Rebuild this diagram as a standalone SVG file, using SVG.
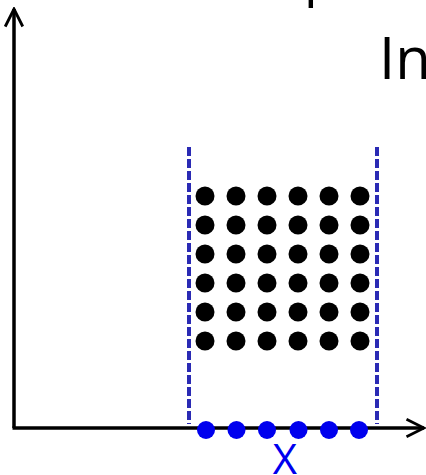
<svg xmlns="http://www.w3.org/2000/svg" width="426" height="475" viewBox="0 0 426 475">
<style>
.axis{stroke:#000;stroke-width:3.5;fill:none}
.dash{stroke:#2a2ab4;stroke-width:4;stroke-dasharray:9 3;fill:none}
.bd{fill:#000}
.bl{fill:#0000ee}
.t{font-family:"Open Sans","Liberation Sans",sans-serif}
</style>
<defs>
<marker id="ah" viewBox="0 0 12 12" refX="11" refY="6" markerWidth="6" markerHeight="6" markerUnits="strokeWidth" orient="auto">
<path d="M1 1 L11 6 L1 11" fill="none" stroke="#000" stroke-width="1.6"/>
</marker>
</defs>
<rect width="426" height="475" fill="#fff"/>
<text class="t" x="304" y="-5" font-size="54" fill="#000">p</text>
<text class="t" x="379" y="79" font-size="58" fill="#000">In</text>
<g id="axes">
<line class="axis" x1="14" y1="428" x2="14" y2="9" marker-end="url(#ah)"/>
<line class="axis" x1="12.5" y1="428" x2="424" y2="428" marker-end="url(#ah)"/>
</g>
<g id="bounds">
<line class="dash" x1="189" y1="147" x2="189" y2="424"/>
<line class="dash" x1="377" y1="147" x2="377" y2="424"/>
</g>
<g id="grid">
<g id="row1"><circle class="bd" cx="205" cy="196" r="9.5"/><circle class="bd" cx="236" cy="196" r="9.5"/><circle class="bd" cx="267" cy="196" r="9.5"/><circle class="bd" cx="298" cy="196" r="9.5"/><circle class="bd" cx="329" cy="196" r="9.5"/><circle class="bd" cx="360" cy="196" r="9.5"/></g>
<g id="row2"><circle class="bd" cx="205" cy="225" r="9.5"/><circle class="bd" cx="236" cy="225" r="9.5"/><circle class="bd" cx="267" cy="225" r="9.5"/><circle class="bd" cx="298" cy="225" r="9.5"/><circle class="bd" cx="329" cy="225" r="9.5"/><circle class="bd" cx="360" cy="225" r="9.5"/></g>
<g id="row3"><circle class="bd" cx="205" cy="254" r="9.5"/><circle class="bd" cx="236" cy="254" r="9.5"/><circle class="bd" cx="267" cy="254" r="9.5"/><circle class="bd" cx="298" cy="254" r="9.5"/><circle class="bd" cx="329" cy="254" r="9.5"/><circle class="bd" cx="360" cy="254" r="9.5"/></g>
<g id="row4"><circle class="bd" cx="205" cy="283" r="9.5"/><circle class="bd" cx="236" cy="283" r="9.5"/><circle class="bd" cx="267" cy="283" r="9.5"/><circle class="bd" cx="298" cy="283" r="9.5"/><circle class="bd" cx="329" cy="283" r="9.5"/><circle class="bd" cx="360" cy="283" r="9.5"/></g>
<g id="row5"><circle class="bd" cx="205" cy="312" r="9.5"/><circle class="bd" cx="236" cy="312" r="9.5"/><circle class="bd" cx="267" cy="312" r="9.5"/><circle class="bd" cx="298" cy="312" r="9.5"/><circle class="bd" cx="329" cy="312" r="9.5"/><circle class="bd" cx="360" cy="312" r="9.5"/></g>
<g id="row6"><circle class="bd" cx="205" cy="341" r="9.5"/><circle class="bd" cx="236" cy="341" r="9.5"/><circle class="bd" cx="267" cy="341" r="9.5"/><circle class="bd" cx="298" cy="341" r="9.5"/><circle class="bd" cx="329" cy="341" r="9.5"/><circle class="bd" cx="360" cy="341" r="9.5"/></g>
</g>
<g id="xpoints">
<circle class="bl" cx="206" cy="430" r="9"/><circle class="bl" cx="236.5" cy="430" r="9"/><circle class="bl" cx="267" cy="430" r="9"/><circle class="bl" cx="298.5" cy="430" r="9"/><circle class="bl" cx="329" cy="430" r="9"/><circle class="bl" cx="359" cy="430" r="9"/>
</g>
<text class="t" x="285" y="474" font-size="42" fill="#0000ee" text-anchor="middle">X</text>
</svg>
